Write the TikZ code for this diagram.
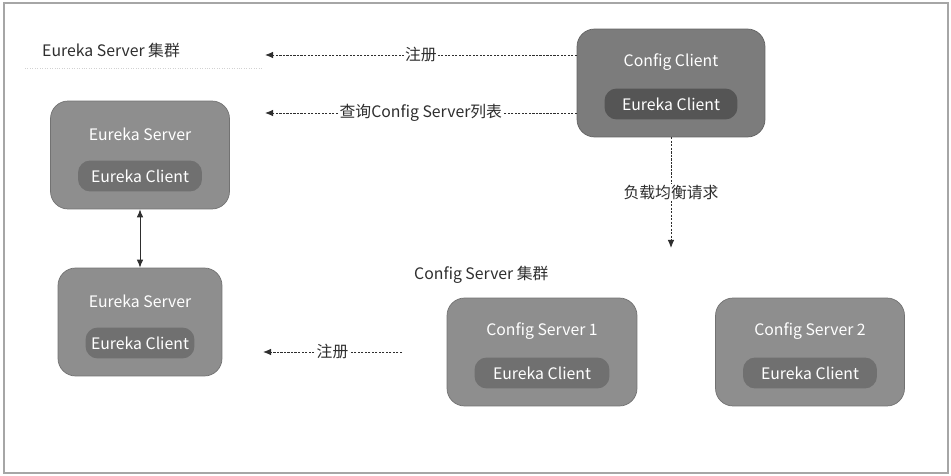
\documentclass[tikz,border=0pt]{standalone}
\usepackage{fontspec}
\setmainfont{Noto Sans CJK SC}
\usetikzlibrary{positioning,calc,arrows.meta}
\definecolor{boxgray}{HTML}{8E8E8E}
\definecolor{innergray}{HTML}{707070}
\definecolor{ccgray}{HTML}{7C7C7C}
\definecolor{ccinner}{HTML}{555555}
\definecolor{labgray}{HTML}{2E2E2E}
\tikzset{
  appbox/.style={rectangle,rounded corners=10pt,draw=boxgray!80!black,line width=0.4pt,fill=boxgray,minimum height=2.16cm,inner sep=0},
  ccbox/.style={appbox,fill=ccgray,draw=ccgray!80!black},
  appclient/.style={rectangle,rounded corners=7pt,fill=innergray,text=white,minimum height=0.62cm,inner sep=0,font=\fontsize{9pt}{11pt}\selectfont},
  ccclient/.style={appclient,fill=ccinner},
  boxtitle/.style={text=white,inner sep=0,font=\fontsize{9pt}{11pt}\selectfont},
  lab/.style={text=labgray,font=\fontsize{9pt}{11pt}\selectfont},
  % labels sit on the dashed line
  onlab/.style={lab,fill=white,inner sep=0.5pt},
  link/.style={dash pattern=on 1.2pt off 0.8pt,line width=0.5pt,draw=labgray,-{Latex[length=1.6mm,width=1.3mm]}},
  twoway/.style={link,{Latex[length=1.6mm,width=1.3mm]}-{Latex[length=1.6mm,width=1.3mm]},solid},
}

\begin{document}
\begin{tikzpicture}[x=0.02cm,y=-0.02cm]
  \useasboundingbox (0,0) rectangle (951,476);
  \draw[gray!70,line width=0.6pt] (4,3) rectangle (948,473);
  % one application: the outer box with its title, the Eureka client inside
  \newcommand{\appbox}[5]{% #1 = name, #2 = centre, #3 = width, #4 = title, #5 = app or cc
    \node[#5box,minimum width=#3] (#1) at (#2) {};
    \node[boxtitle] (#1t) at ($(#1.center)+(0,-21)$) {#4};
    \node[#5client,minimum width=#3-1.1cm] (#1c) at ($(#1.center)+(0,21)$) {Eureka Client};
  }
  \node[lab,anchor=west] (esgroup) at (36,50) {Eureka Server 集群};
  \draw[gray!35,densely dotted] (25,68) -- (262,68);
  \node[lab,anchor=west] (csgroup) at (408,275) {Config Server 集群};

  \appbox{es1}{140,155}{3.58cm}{Eureka Server}{app}
  \appbox{es2}{140,322}{3.28cm}{Eureka Server}{app}
  \appbox{cc}{671,83}{3.76cm}{Config Client}{cc}
  \appbox{cs1}{542,352}{3.8cm}{Config Server 1}{app}
  \appbox{cs2}{810,352}{3.78cm}{Config Server 2}{app}

  \coordinate (regtop) at (265,55);
  \coordinate (query) at (265,113);
  \coordinate (lbend) at (671,248);
  \coordinate (regfrom) at (402,352);
  \coordinate (regto) at (263,352);

  \draw[link] (cc.west |- regtop) -- node[onlab] {注册} (regtop);
  \draw[link] (cc.west |- query) -- node[onlab] {查询Config Server列表} (query);
  \draw[link] (cc.south) -- node[onlab] {负载均衡请求} (lbend);
  \draw[link] (regfrom) -- node[onlab] {注册} (regto);
  \draw[twoway] (es1.south) -- (es2.north);
\end{tikzpicture}
\end{document}
